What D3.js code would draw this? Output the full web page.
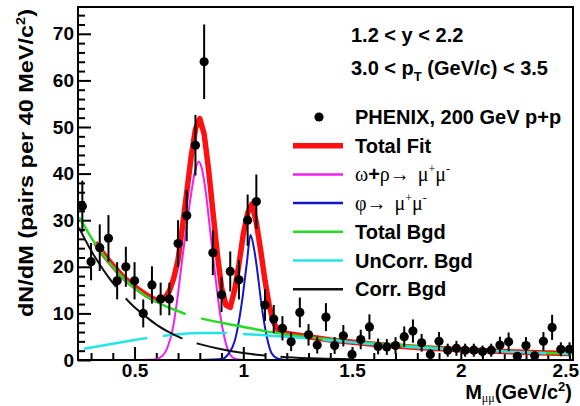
<!DOCTYPE html>
<html>
<head>
<meta charset="utf-8">
<script src="https://cdn.jsdelivr.net/npm/d3@7"></script>
<style>
  html, body { margin: 0; padding: 0; background: #fff; }
  svg { display: block; }
  .sans { font-family: "Liberation Sans", Arial, Helvetica, sans-serif; font-weight: bold; }
  .serif { font-family: "Liberation Serif", "Times New Roman", serif; font-weight: normal; }
</style>
</head>
<body>
<svg id="chart" width="580" height="406"></svg>
<script>
// Dimuon invariant-mass spectrum, 40 MeV bins (bin centres in GeV/c^2)
const mass = [0.26, 0.30, 0.34, 0.38, 0.42, 0.46, 0.50, 0.54, 0.58, 0.62, 0.66, 0.70, 0.74, 0.78,
  0.82, 0.86, 0.90, 0.94, 0.98, 1.02, 1.06, 1.10, 1.14, 1.18, 1.22, 1.26, 1.30, 1.34, 1.38,
  1.42, 1.46, 1.50, 1.54, 1.58, 1.62, 1.66, 1.70, 1.74, 1.78, 1.82, 1.86, 1.90, 1.94, 1.98,
  2.02, 2.06, 2.10, 2.14, 2.18, 2.22, 2.26, 2.30, 2.34, 2.38, 2.42, 2.46, 2.50];
const counts = [33.0, 21.1, 24.1, 26.1, 17.0, 20.0, 17.0, 10.0, 16.1, 13.1, 13.1, 25.0, 31.0, 46.1,
  64.0, 23.0, 14.0, 19.0, 17.2, 30.0, 34.0, 11.8, 8.8, 6.8, 3.9, 10.2, 5.4, 3.2, 9.2,
  3.1, 5.2, 1.2, 4.4, 7.1, 2.9, 2.8, 3.1, 5.0, 6.2, 3.7, 1.2, 4.0, 2.1, 2.5,
  2.1, 2.1, 1.8, 2.1, 3.2, 3.9, 0.8, 3.1, 0.9, 4.0, 7.0, 2.3, 2.3];
const errors = [5.5, 4.0, 5.0, 5.0, 4.0, 4.3, 4.0, 3.0, 4.0, 3.5, 3.5, 5.0, 5.5, 6.5,
  8.0, 4.8, 3.7, 4.3, 4.2, 5.5, 5.8, 3.4, 3.0, 2.6, 2.0, 3.2, 2.3, 1.8, 3.0,
  1.8, 2.3, 1.1, 2.1, 2.7, 1.7, 1.7, 1.8, 2.2, 2.5, 1.9, 1.1, 2.0, 1.4, 1.6,
  1.4, 1.4, 1.3, 1.4, 1.8, 2.0, 0.9, 1.8, 0.9, 2.0, 2.7, 1.5, 1.5];

// Fit components sampled along the mass axis
const totalFitMass = [0.32, 0.36, 0.40, 0.44, 0.48, 0.52, 0.56, 0.60, 0.62, 0.64, 0.66, 0.68, 0.70,
  0.72, 0.74, 0.76, 0.78, 0.80, 0.82, 0.84, 0.86, 0.88, 0.90, 0.92, 0.94, 0.96, 0.98, 1.00,
  1.02, 1.04, 1.06, 1.08, 1.10, 1.12, 1.14, 1.16, 1.20, 1.30, 1.40, 1.60, 1.80, 2.00, 2.20, 2.40, 2.50];
const totalFitValue = [25.2, 22.6, 20.3, 18.2, 16.5, 15.1, 13.8, 12.8, 12.7, 13.3, 14.8, 17.5, 21.5,
  28.5, 36.0, 43.5, 49.5, 51.8, 48.5, 41.0, 32.0, 23.0, 15.5, 11.8, 11.3, 15.0, 20.5, 27.0,
  31.5, 33.5, 29.5, 23.5, 17.0, 11.5, 8.0, 6.4, 5.7, 5.0, 4.3, 3.4, 2.7, 2.2, 1.8, 1.5, 1.4];

const omegaRhoMass = [0.50, 0.59, 0.626, 0.654, 0.677, 0.695, 0.723, 0.755, 0.778, 0.794, 0.810,
  0.829, 0.847, 0.870, 0.893, 0.916, 0.939, 0.966, 1.00];
const omegaRhoValue = [0, 0.1, 0.8, 3.0, 7.0, 12.5, 23.0, 34.0, 40.5, 42.6, 41.0,
  35.5, 28.0, 18.6, 10.0, 4.3, 1.2, 0.2, 0];

const phiMass = [0.80, 0.90, 0.93, 0.962, 0.993, 1.016, 1.033, 1.049, 1.062, 1.085, 1.108, 1.131,
  1.160, 1.215, 1.50];
const phiValue = [0, 0.2, 1.2, 4.3, 12.2, 20.7, 26.8, 24.0, 20.0, 11.4, 5.0, 1.4, 0.3, 0, 0];

const totalBgdMass = [0.245, 0.26, 0.30, 0.34, 0.38, 0.42, 0.46, 0.50, 0.55, 0.60, 0.65, 0.70, 0.75,
  0.80, 0.90, 1.00, 1.10, 1.20, 1.40, 1.60, 1.80, 2.00, 2.20, 2.40, 2.52];
const totalBgdValue = [30.6, 29.5, 26.3, 23.6, 21.1, 19.0, 17.0, 15.5, 13.8, 12.5, 11.4, 10.5, 9.6,
  9.0, 8.0, 7.1, 6.2, 5.5, 4.4, 3.6, 2.9, 2.3, 1.9, 1.5, 1.3];

const unCorrMass = [0.245, 0.30, 0.40, 0.50, 0.60, 0.70, 0.80, 0.90, 1.00, 1.10, 1.20, 1.40, 1.60,
  1.80, 2.00, 2.20, 2.40, 2.52];
const unCorrValue = [2.2, 2.7, 3.5, 4.3, 5.0, 5.5, 5.8, 5.8, 5.6, 5.3, 5.0, 4.2, 3.4,
  2.7, 2.2, 1.8, 1.45, 1.3];

const corrMass = [0.245, 0.26, 0.30, 0.34, 0.38, 0.42, 0.46, 0.50, 0.55, 0.60, 0.65, 0.70, 0.75,
  0.80, 0.90, 1.00, 1.10, 1.20, 1.35, 1.50];
const corrValue = [28.4, 27.0, 23.5, 20.5, 17.8, 15.4, 13.2, 11.3, 9.4, 7.6, 6.2, 5.0, 4.1,
  3.4, 2.3, 1.5, 0.95, 0.6, 0.3, 0.15];

// Axis ticks
const xTickValues = [0.5, 1.0, 1.5, 2.0, 2.5];
const xTickLabels = ["0.5", "1", "1.5", "2", "2.5"];
const yTickValues = [0, 10, 20, 30, 40, 50, 60, 70];
const yTickLabels = ["0", "10", "20", "30", "40", "50", "60", "70"];

const svg = d3.select("#chart");
const frame = { left: 78, top: 7, right: 573, bottom: 360 };

const x = d3.scaleLinear().domain([0.24, 2.516]).range([frame.left, frame.right]);
const y = d3.scaleLinear().domain([0, 75.75]).range([frame.bottom, frame.top]);

svg.append("rect").attr("width", 580).attr("height", 406).attr("fill", "#fff");

svg.append("clipPath").attr("id", "plotClip")
  .append("rect")
  .attr("x", frame.left).attr("y", frame.top)
  .attr("width", frame.right - frame.left).attr("height", frame.bottom - frame.top);

// ---- axes ----
function styleAxis(g) {
  g.attr("font-family", null).attr("font-size", null);
  g.select(".domain").remove();
  g.selectAll("line").attr("stroke", "#000").attr("stroke-width", 2);
  g.selectAll("text").attr("class", "sans").attr("font-size", 19).attr("fill", "#000");
}

const yMinor = d3.range(0, 76, 2).filter(v => v % 10 !== 0);
const xMinor = d3.range(3, 26).map(v => v / 10).filter(v => Math.abs(v * 2 - Math.round(v * 2)) > 1e-6);

svg.append("g").attr("transform", `translate(${frame.left},0)`)
  .call(d3.axisLeft(y).tickValues(yMinor).tickSize(-7).tickSizeOuter(0).tickFormat(""))
  .call(styleAxis);
svg.append("g").attr("transform", `translate(${frame.left},0)`)
  .call(d3.axisLeft(y).tickValues(yTickValues).tickSize(-13).tickSizeOuter(0).tickPadding(4)
    .tickFormat((d, i) => yTickLabels[i]))
  .call(styleAxis);

svg.append("g").attr("transform", `translate(0,${frame.bottom})`)
  .call(d3.axisBottom(x).tickValues(xMinor).tickSize(-7).tickSizeOuter(0).tickFormat(""))
  .call(styleAxis);
const xMajorAxis = svg.append("g").attr("transform", `translate(0,${frame.bottom})`)
  .call(d3.axisBottom(x).tickValues(xTickValues).tickSize(-13).tickSizeOuter(0).tickPadding(3)
    .tickFormat((d, i) => xTickLabels[i]))
  .call(styleAxis);
// the last label sits against the window edge: keep it inside
xMajorAxis.selectAll(".tick text").filter(d => d === 2.5).attr("text-anchor", "end").attr("dx", 9);

// ---- curves ----
const plotArea = svg.append("g").attr("clip-path", "url(#plotClip)");

function curve(xs, ys, color, width, dash, offset, interp) {
  const pts = xs.map((m, i) => [x(m), y(ys[i])]);
  const line = d3.line().curve(interp || d3.curveMonotoneX);
  const p = plotArea.append("path")
    .attr("d", line(pts))
    .attr("fill", "none")
    .attr("stroke", color)
    .attr("stroke-width", width)
    .attr("stroke-linejoin", "round");
  if (dash) p.attr("stroke-dasharray", dash).attr("stroke-dashoffset", offset || 0);
  return p;
}

curve(totalFitMass, totalFitValue, "#ff1010", 5.5, null, 0, d3.curveLinear);
curve(omegaRhoMass, omegaRhoValue, "#ee22ee", 2);
curve(phiMass, phiValue, "#1515c8", 2);
curve(totalBgdMass, totalBgdValue, "#22dd22", 2.5, "148,16", 0);
curve(unCorrMass, unCorrValue, "#22e5e5", 2.5, "64,16", -5);
curve(corrMass, corrValue, "#111", 2, "70,15", 0);

// ---- data points ----
const pts = plotArea.append("g");
pts.selectAll("line.err").data(mass).join("line")
  .attr("class", "err")
  .attr("x1", d => x(d)).attr("x2", d => x(d))
  .attr("y1", (d, i) => y(counts[i] + errors[i]))
  .attr("y2", (d, i) => y(Math.max(0, counts[i] - errors[i])))
  .attr("stroke", "#000").attr("stroke-width", 2);
pts.selectAll("circle").data(mass).join("circle")
  .attr("cx", d => x(d)).attr("cy", (d, i) => y(counts[i]))
  .attr("r", 4.6).attr("fill", "#000");

// ---- frame ----
svg.append("rect")
  .attr("x", frame.left).attr("y", frame.top)
  .attr("width", frame.right - frame.left).attr("height", frame.bottom - frame.top)
  .attr("fill", "none").attr("stroke", "#000").attr("stroke-width", 2);

// ---- axis titles ----
const yTitle = svg.append("text").attr("class", "sans").attr("font-size", 21)
  .attr("transform", "translate(33,163) rotate(-90)")
  .attr("text-anchor", "middle")
  .attr("textLength", 308).attr("lengthAdjust", "spacingAndGlyphs");
yTitle.append("tspan").text("dN/dM (pairs per 40 MeV/c");
yTitle.append("tspan").attr("font-size", 13).attr("dy", -8).text("2");
yTitle.append("tspan").attr("dy", 8).text(")");

const xTitle = svg.append("text").attr("class", "sans").attr("font-size", 20)
  .attr("x", 572).attr("y", 399).attr("text-anchor", "end");
xTitle.append("tspan").text("M");
xTitle.append("tspan").attr("class", "serif").attr("font-size", 12).attr("dy", 3).text("μμ");
xTitle.append("tspan").attr("dy", -3).text("(GeV/c");
xTitle.append("tspan").attr("font-size", 13).attr("dy", -8).text("2");
xTitle.append("tspan").attr("dy", 8).text(")");

// ---- kinematic selection ----
svg.append("text").attr("class", "sans").attr("font-size", 20)
  .attr("x", 351).attr("y", 42).text("1.2 < y < 2.2");
const pt = svg.append("text").attr("class", "sans").attr("font-size", 20)
  .attr("x", 351).attr("y", 75);
pt.append("tspan").text("3.0 < p");
pt.append("tspan").attr("font-size", 13).attr("dy", 6).text("T");
pt.append("tspan").attr("dy", -6).text(" (GeV/c) < 3.5");

// ---- legend ----
const legendLabels = ["PHENIX, 200 GeV p+p", "Total Fit", "ω+ρ→ μμ", "φ→ μμ", "Total Bgd", "UnCorr. Bgd", "Corr. Bgd"];
const legendColors = ["#000", "#ff1010", "#ee22ee", "#1515c8", "#22dd22", "#22e5e5", "#111"];
const legendWidths = [0, 5.5, 2.5, 2.5, 2.5, 2.5, 2.5];
const legendBaseline = [124, 152.7, 181.4, 210.1, 238.8, 267.5, 296.2];
const leg = svg.append("g");

legendLabels.forEach((lab, i) => {
  const by = legendBaseline[i];
  if (i === 0) {
    leg.append("circle").attr("cx", 319).attr("cy", by - 7).attr("r", 4.6).attr("fill", "#000");
  } else {
    leg.append("line").attr("x1", 293).attr("x2", 343).attr("y1", by - 7).attr("y2", by - 7)
      .attr("stroke", legendColors[i]).attr("stroke-width", legendWidths[i]);
  }
  const t = leg.append("text").attr("x", 355).attr("y", by).attr("font-size", 20);
  if (i === 2 || i === 3) {
    const decay = t.attr("class", "serif");
    if (i === 2) {
      decay.append("tspan").text("ω");
      decay.append("tspan").attr("class", "sans").text("+");
      decay.append("tspan").text("ρ→");
    } else {
      decay.append("tspan").text("φ→");
    }
    decay.append("tspan").attr("dx", 8).text("μ");
    decay.append("tspan").attr("font-size", 12).attr("dy", -8).text("+");
    decay.append("tspan").attr("font-size", 20).attr("dy", 8).text("μ");
    decay.append("tspan").attr("font-size", 12).attr("dy", -8).text("-");
  } else {
    t.attr("class", "sans").text(lab);
  }
});
</script>
</body>
</html>
